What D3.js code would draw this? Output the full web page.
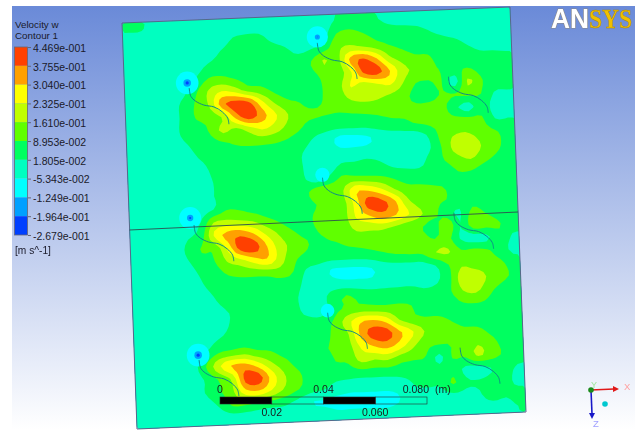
<!DOCTYPE html>
<html>
<head>
<meta charset="utf-8">
<script src="https://cdn.jsdelivr.net/npm/d3@7"></script>
<style>
  html, body { margin: 0; padding: 0; background: #fff; }
  svg { display: block; font-family: "Liberation Sans", Arial, sans-serif; filter: blur(0.35px); }
</style>
</head>
<body>
<div id="chart"></div>
<script>
// legend, top to bottom (m/s)
const legendLabels = ['4.469e-001', '3.755e-001', '3.040e-001', '2.325e-001', '1.610e-001', '8.953e-002', '1.805e-002', '-5.343e-002', '-1.249e-001', '-1.964e-001', '-2.679e-001'];
const bandColors = ['#ff4000', '#ffa000', '#ffff00', '#c0ff00', '#60ff00', '#00ff60', '#00ffc0', '#00ffff', '#00a0ff', '#0040ff'];

// velocity w in cm/s on a 30 x 31 grid
const fieldW = [
  [3,2.5,-2,-2,-2,-2,-2,-2,-2,-2,-2,-2,-2,-2,-2,-2,2.5,5,4,2.5,0,-2,-2,-2,-2,-2,-2,-2,-2,-2],
  [-2,-2,-2,-2,-2,-2,-2,-2,2,3,3,0,-2,-2,-2,-1,9,11,9,7,5,5,4,2,0,-2,-2,-2,-2,-2],
  [-2,-2,-2,-2,-2,-2,-2,2,5,5,5,4,2.5,-0.5,1,5,14,17,15,12,9,7,5,5,4.5,3.5,1,-1,-2,-2],
  [-2,-2,-2,-2,-2,-2,2.5,5,5,5,5,5,5,5,9,17,13,32,38,31,18,13,10,9.5,6,5,5,3,3,2.5],
  [-2,-2,-2,-2,-2,2,9,10,8,6,5,5,5,5,7.5,11,12,22,39,41,31,19,14.5,11,8.5,7.5,9,6,5,5],
  [-2,-2,-2,-2,0,8,17,23,20,13,11,7,5,5,5.5,10,13,24,19,22,24,16,9,8.5,9,-2,17,10,5,5],
  [-2,-2,-2,-2,4,10,17,35,41,40,26,15.5,10,8.5,6,10,12,17,18,17,14,11,7,7,9.5,9.5,11,9,1.5,1],
  [-2,-2,-2,-2,4,9.5,11,17,33,42,34,25,16.5,11,10,9.5,9,9.5,10,10.5,11,11,10.5,11,11,3,-1,6.5,-1,-1],
  [-2,-2,-2,-2,4,5,10,18,14,19,24,20,14,9.5,6,5,5,5,5,6,7,7.5,10,11,12,12,12,10,2,2],
  [-2,-2,-2,-2,1,4.5,6,8,10,11,11,10,8,5,1,-2,-7.5,-7.5,-6.5,-3,-1.5,-1,-1,4,13,16,16,12,10,5],
  [-2,-2,-2,-2,-2,2,5,5,5,5,5,5,5,2,-1,-2,-3.5,-3.5,-3,-2,-2,-2,-2,2,11,20,22,15,11,6],
  [-2,-2,-2,-2,-2,-2,3,5,5,5,5,5,5,2,-2,-3,2.5,3,4.5,2.5,-0.5,-1,-1,5,9,13,16,11,7.5,5],
  [-2,-2,-2,-2,-2,-2,1.5,5,5,5,5,5,5,3,-2,3,10,10,9.5,9,7,5,5,5,5,8.5,8,5,5,5],
  [-2,-2,-2,-2,-2,-2,1.5,4,5,5,5,5,5,6,13,15,15,29,29,24,16,11,10,9.5,8.5,5,5,5,5,5],
  [-2,-2,-2,-2,-2,-2,1.5,8,8,6,5,5,5,5,9,10,13,26,41,40,32,18,12,10,9,5,5,5,5,5],
  [-2,-2,-2,-2,-2,2,16,18,17,15.5,11,8,5,5,11,12,13,24,30,35,31,24,17,11,5,1,11,8,5,5],
  [-2,-2,-2,-2,1,5.5,24,33,36,31,22,15,10,7,9,12,12,17,17,17,14,11,9.5,6,15,2,13,12,9.5,5],
  [-2,-2,-2,-2,4,9.5,11,25,41,42,31,20,14,10,7,8,9.5,11,12,12,12,11.5,11,9,11,1,-1,0,7,1],
  [-2,-2,-2,-2,1.5,6,9,17,21,27,30,20,11,7,5,5,5,5,6,8,9,9.5,10,16,17,10,11,9.5,6,0],
  [-2,-2,-2,-2,-1,3,5.5,9.5,11,11.5,12,13,9,1,-1,-6,-6.5,-6.5,-5.5,-2,-1,-1,-1,2,9,15,12,11,10,6],
  [-2,-2,-2,-2,-2,1,4,5,5,5,5,5,5,-0.5,-2,-3,-4,-4,-4,-2,-1.5,-1,-1,0.5,7,20,22,15,11,8],
  [-2,-2,-2,-2,-2,-2,1.8,5,5,5,5,5,3,-1,-1,5,9,7,5.5,5,5,5,3,4,8,16,18,11,7,5],
  [-2,-2,-2,-2,-2,-2,-1,2,4.5,5,5,5,4,-1,-2,6,10,11,10.5,10,10,9,5.5,5,5.5,8.5,9,7.5,5,5],
  [-2,-2,-2,-2,-2,-2,-2,2.5,5,5,5,5,5,5,5,10,20,29,31,27,16,11,9.5,9.5,8,5,5,5,5,5],
  [-2,-2,-2,-2,-2,-2,2,5,5,5,5,5,5,5,5,11,15,32,41,41,32,24,15.5,11,11,10,10,7,5,5],
  [-2,-2,-2,-2,-2,2,9,11,13,10,9,6,5,5,8,10,13,24,30,33,27,18,11,9.5,9,10,15,11,7,5],
  [-2,-2,-2,-2,-1,9,22,31,33,27,18,12,7,5,5,9,10,18,16,17,12,10,8.5,0,9.5,10,17,12,8,5],
  [-2,-2,-2,-2,-2,3,10,18,40,41,28,17,11,6,5,5,5,5,5,5,5,5,5,4,6,0,-1,2,5,1],
  [-2,-2,-2,-2,-1,2.5,8,15,28,30,23,15,9.5,5,3,-1,-3,-3,-3,-3,-2,2,3,3,10,3,2.5,4,5,-1],
  [-2,-2,-2,-2,-2,-1,3,10,9.5,7,5,3.5,-0.5,-5,-6,-7,-7,-7,-7,-7,-5,-1,-1,-1,0,0,1,6,3,5],
  [-2,-2,-2,-2,-2,-2,-2,-2,-2,-2,-2,-2,-2,-2,-3,-4.5,-4.5,-4.5,-4.5,-4.5,-3.5,-2,-2,-2,-2,-2,-2,-2,-1,2]
];

// blade leading edges on the plate (m)
const bladeX = [0.0250, 0.0751, 0.1252, 0.0249, 0.0751, 0.1252, 0.0249, 0.0751, 0.1256];
const bladeY = [0.0262, 0.0108, 0.0260, 0.0792, 0.0630, 0.0787, 0.1314, 0.1153, 0.1310];
// blade camber line, relative to the leading edge (m)
const camberX = [0, 0.0005, 0.0022, 0.0054, 0.0093, 0.0124, 0.0144, 0.0148];
const camberY = [0, 0.0032, 0.0051, 0.0068, 0.0077, 0.0097, 0.0122, 0.0146];

// low pressure spots at the blade tips (m, and minimum w in cm/s)
const spotX = [0.0243, 0.0752, 0.0235, 0.0246, 0.0751, 0.0751];
const spotY = [0.0242, 0.0085, 0.0764, 0.1295, 0.0619, 0.1145];
const spotMin = [-25, -21, -23, -25, -9.5, -9];

const scaleBarTicks = [0, 0.02, 0.04, 0.06, 0.08];
const scaleBarLabels = ['0', '0.02', '0.04', '0.060', '0.080'];

const plateWidth = 0.15, plateHeight = 0.157;
const corners = { tl: [122, 23], tr: [510, 7], br: [526, 412], bl: [137, 429] };

const svg = d3.select('#chart').append('svg').attr('width', 639).attr('height', 430);

const defs = svg.append('defs');
const grad = defs.append('linearGradient').attr('id', 'bg')
  .attr('x1', 0).attr('x2', 0).attr('y1', 0).attr('y2', 1);
grad.append('stop').attr('offset', 0).attr('stop-color', '#6a8ad8');
grad.append('stop').attr('offset', 1).attr('stop-color', '#ffffff');

svg.append('rect').attr('x', 12).attr('y', 6).attr('width', 623).attr('height', 424)
  .attr('fill', 'url(#bg)');

// plate coordinates (m) to the tilted picture plane
const u = d3.scaleLinear().domain([0, plateWidth]).range([0, 1]);
const v = d3.scaleLinear().domain([0, plateHeight]).range([0, 1]);
function plate(x, y) {
  const a = u(x), b = v(y);
  const top = d3.interpolateArray(corners.tl, corners.tr)(a);
  const bot = d3.interpolateArray(corners.bl, corners.br)(a);
  return d3.interpolateArray(top, bot)(b);
}

// contour on a finer raster so the bands come out round like the solver's
const refine = 3;
const ny = fieldW.length, nx = fieldW[0].length;
function catmull(a, b, c, d, t) {
  return 0.5 * (2 * b + (c - a) * t + (2 * a - 5 * b + 4 * c - d) * t * t + (3 * b - a - 3 * c + d) * t * t * t);
}
function sampleRow(row, x) {
  const i = Math.floor(x), t = x - i;
  const at = k => row[Math.max(0, Math.min(nx - 1, k))];
  return catmull(at(i - 1), at(i), at(i + 1), at(i + 2), t);
}
function sampleField(x, y) {
  const j = Math.floor(y), t = y - j;
  const at = k => sampleRow(fieldW[Math.max(0, Math.min(ny - 1, k))], x);
  return catmull(at(j - 1), at(j), at(j + 1), at(j + 2), t);
}
const fineW = nx * refine, fineH = ny * refine;
const fine = [];
for (let j = 0; j < fineH; j++) {
  for (let i = 0; i < fineW; i++) {
    fine.push(sampleField((i + 0.5) / refine - 0.5, (j + 0.5) / refine - 0.5) / 100);
  }
}

const gridX = d3.scaleLinear().domain([0, fineW]).range([0, plateWidth]);
const gridY = d3.scaleLinear().domain([0, fineH]).range([0, plateHeight]);
const gridPath = d3.geoPath(d3.geoTransform({
  point(x, y) {
    const p = plate(gridX(x), gridY(y));
    this.stream.point(p[0], p[1]);
  }
}));

// contour bands, low to high
const legendValues = legendLabels.map(Number);
const thresholds = legendValues.slice(1).reverse();   // lower bound of each band
const bandsUp = bandColors.slice().reverse();
const contours = d3.contours().size([fineW, fineH]).thresholds(thresholds)(fine);

const plateG = svg.append('g');
plateG.selectAll('path.band')
  .data(contours)
  .join('path')
  .attr('class', 'band')
  .attr('d', gridPath)
  .attr('fill', d => bandsUp[thresholds.indexOf(d.value)]);

// spots
const outerRadius = d3.scalePow().exponent(0.3).domain([0, 20]).range([0, 11.4]);
const innerRadius = d3.scaleLinear().domain([0, 20]).range([0, 6]);
const spotG = plateG.append('g');
spotX.forEach((sx, i) => {
  const p = plate(sx, spotY[i]);
  const depth = t => t - spotMin[i];
  spotG.append('circle').attr('cx', p[0]).attr('cy', p[1])
    .attr('r', outerRadius(depth(-5.343))).attr('fill', bandColors[7]);
  [[-12.49, 8], [-19.64, 9]].forEach(([t, c]) => {
    if (t > spotMin[i]) {
      spotG.append('circle').attr('cx', p[0]).attr('cy', p[1])
        .attr('r', innerRadius(depth(t))).attr('fill', bandColors[c]);
    }
  });
});

// blades
const bladeLine = d3.line().curve(d3.curveCatmullRom);
plateG.selectAll('path.blade')
  .data(bladeX.map((bx, i) => camberX.map((cx, j) => plate(bx + cx, bladeY[i] + camberY[j]))))
  .join('path')
  .attr('class', 'blade')
  .attr('d', bladeLine)
  .attr('fill', 'none')
  .attr('stroke', '#0e8a8a')
  .attr('stroke-width', 1);

// plate outline and the mid line
const outline = [corners.tl, corners.tr, corners.br, corners.bl];
plateG.append('path')
  .attr('d', 'M' + outline.join('L') + 'Z')
  .attr('fill', 'none')
  .attr('stroke', '#5a6688')
  .attr('stroke-width', 1);
plateG.append('line')
  .attr('x1', plate(0, plateHeight / 2)[0]).attr('y1', 230)
  .attr('x2', plate(plateWidth, plateHeight / 2)[0]).attr('y2', 212)
  .attr('stroke', '#2f4f4f').attr('stroke-width', 0.9);

// legend
const legendG = svg.append('g');
legendG.append('text').attr('x', 15).attr('y', 28.3).attr('font-size', 9.8).attr('fill', '#1a1a2a').text('Velocity w');
legendG.append('text').attr('x', 15).attr('y', 39.2).attr('font-size', 9.8).attr('fill', '#1a1a2a').text('Contour 1');

const legendY = d3.scalePoint().domain(legendLabels).range([47, 235]);
const step = legendY.step();
legendG.selectAll('rect')
  .data(bandColors)
  .join('rect')
  .attr('x', 14.5)
  .attr('y', (d, i) => legendY(legendLabels[i]))
  .attr('width', 13)
  .attr('height', step)
  .attr('fill', d => d);
legendG.append('rect').attr('x', 14.5).attr('y', 47).attr('width', 13).attr('height', 188)
  .attr('fill', 'none').attr('stroke', '#667').attr('stroke-width', 0.8);

const legendAxis = d3.axisRight(legendY).tickSize(3).tickPadding(2);
const legendAxisG = legendG.append('g').attr('transform', 'translate(28,0)').call(legendAxis);
legendAxisG.select('.domain').remove();
legendAxisG.selectAll('line').attr('stroke', '#667');
legendAxisG.selectAll('text').attr('font-size', 10.5).attr('font-family', 'inherit').attr('fill', '#1a1a2a').attr('dy', '0.4em');
legendG.append('text').attr('x', 15).attr('y', 254).attr('font-size', 10.2).attr('fill', '#1a1a2a').text('[m s^-1]');

// scale bar
const barX = d3.scaleLinear().domain([0, 0.08]).range([220, 427]);
const barG = svg.append('g');
barG.selectAll('rect')
  .data(d3.pairs(scaleBarTicks))
  .join('rect')
  .attr('x', d => barX(d[0]))
  .attr('y', 397)
  .attr('width', d => barX(d[1]) - barX(d[0]))
  .attr('height', 7)
  .attr('fill', (d, i) => i % 2 ? 'none' : '#000')
  .attr('stroke', '#2a2a2a')
  .attr('stroke-width', 0.6);
const barAxis = g => g.selectAll('text')
  .data(scaleBarTicks)
  .join('text')
  .attr('x', (d, i) => i === scaleBarTicks.length - 1 ? barX(d) + 2 : barX(d))
  .attr('y', (d, i) => i % 2 ? 416 : 393)
  .attr('text-anchor', (d, i) => i === scaleBarTicks.length - 1 ? 'end' : 'middle')
  .attr('font-size', 10.5)
  .attr('fill', '#1a1a1a')
  .text((d, i) => scaleBarLabels[i]);
barG.append('g').call(barAxis);
barG.append('text').attr('x', 435).attr('y', 393).attr('font-size', 10.5).attr('fill', '#1a1a1a').text('(m)');

// logo
svg.append('text').attr('x', 551).attr('y', 28).text('AN')
  .attr('font-family', 'Liberation Sans').attr('font-weight', 'bold').attr('font-size', 27)
  .attr('textLength', 38).attr('lengthAdjust', 'spacingAndGlyphs')
  .attr('fill', '#fff').attr('stroke', '#8a8a8a').attr('stroke-width', 1.2).attr('paint-order', 'stroke');
svg.append('text').attr('x', 589).attr('y', 28).text('SYS')
  .attr('font-family', 'Liberation Serif').attr('font-weight', 'bold').attr('font-size', 27)
  .attr('textLength', 43).attr('lengthAdjust', 'spacingAndGlyphs')
  .attr('fill', '#f0c000').attr('stroke', '#a88400').attr('stroke-width', 0.4);

// axis triad
const triad = svg.append('g');
const arrow = (x2, y2, color) => {
  triad.append('line').attr('x1', 591).attr('y1', 390).attr('x2', x2).attr('y2', y2)
    .attr('stroke', color).attr('stroke-width', 1.6);
};
arrow(614, 389, '#e01818');
arrow(592, 414, '#1818c8');
triad.append('path').attr('d', 'M613,386L619,389L613,392Z').attr('fill', '#e01818');
triad.append('path').attr('d', 'M589,413L592,419L595,413Z').attr('fill', '#1818c8');
triad.append('circle').attr('cx', 591).attr('cy', 390).attr('r', 2.8).attr('fill', '#1a8a1a');
triad.append('circle').attr('cx', 605).attr('cy', 404).attr('r', 2.8).attr('fill', '#00c8d0');
triad.append('text').attr('x', 624).attr('y', 390).attr('font-size', 9.5).attr('fill', '#ffa0a0').text('X');
triad.append('text').attr('x', 591).attr('y', 388).attr('font-size', 9).attr('fill', '#a0e8a0').text('Y');
triad.append('text').attr('x', 593).attr('y', 427).attr('font-size', 9.5).attr('fill', '#a0a0ff').text('Z');
</script>
</body>
</html>
